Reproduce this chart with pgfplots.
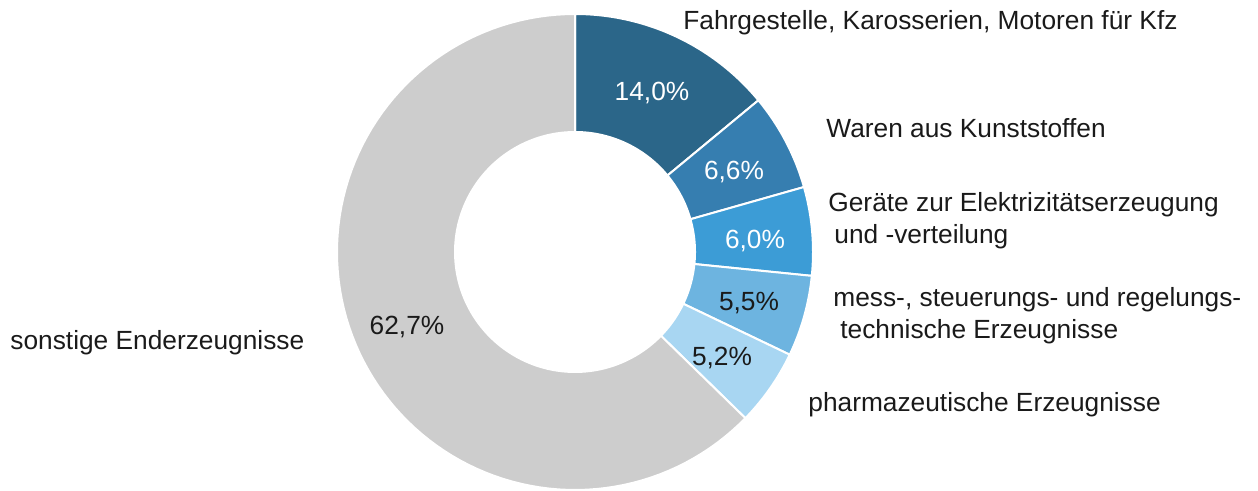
\documentclass[border=0pt]{standalone}
\usepackage{pgfplots}
\pgfplotsset{compat=1.18}
\usepackage{fontspec}
\setmainfont{Liberation Sans}

\definecolor{c1}{HTML}{2B6689}
\definecolor{c2}{HTML}{367EB0}
\definecolor{c3}{HTML}{3C9CD6}
\definecolor{c4}{HTML}{6DB4E0}
\definecolor{c5}{HTML}{A8D6F2}
\definecolor{c6}{HTML}{CDCDCD}
\definecolor{txt}{HTML}{1A1A1A}

\tikzset{lab/.style={font=\fontsize{13.2}{16}\selectfont, text=txt, inner sep=0pt}}

% one ring segment: start angle, end angle, colour
\newcommand{\segplot}[3]{%
  \addplot[fill=#3, draw=white, line width=1bp, line join=round,
    domain=0:2.2, samples=221, variable=\t]
  ({575+((\t<0.05||\t>1.15)?120:238)*cos((\t<=1.15)?(#1+(#2-#1)*min(max(\t-0.1,0),1)):(#2+(#1-#2)*min(max(\t-1.2,0),1)))},
   {239+((\t<0.05||\t>1.15)?120:238)*sin((\t<=1.15)?(#1+(#2-#1)*min(max(\t-0.1,0),1)):(#2+(#1-#2)*min(max(\t-1.2,0),1)))});
}
% start share, share (percent), colour
\newcommand{\seg}[3]{%
  \pgfmathsetmacro\sa{90-3.6*#1}%
  \pgfmathsetmacro\sb{90-3.6*(#1+#2)}%
  \edef\doseg{\noexpand\segplot{\sa}{\sb}{#3}}\doseg
}

\begin{document}
\begin{tikzpicture}
\begin{axis}[
    x=0.5bp, y=0.5bp,
    xmin=0, xmax=1258, ymin=0, ymax=491,
    hide axis, clip=false,
]
\path (axis cs:0,0) rectangle (axis cs:1258,491);

\seg{0}{14.0}{c1}
\seg{14.0}{6.6}{c2}
\seg{20.6}{6.0}{c3}
\seg{26.6}{5.5}{c4}
\seg{32.1}{5.2}{c5}
\seg{37.3}{62.7}{c6}

% shares
\node[lab, anchor=base, text=white] at (axis cs:652,390) {14,0\%};
\node[lab, anchor=base, text=white] at (axis cs:734,311) {6,6\%};
\node[lab, anchor=base, text=white] at (axis cs:755,242) {6,0\%};
\node[lab, anchor=base] at (axis cs:749,180) {5,5\%};
\node[lab, anchor=base] at (axis cs:722,125) {5,2\%};
\node[lab, anchor=base] at (axis cs:407,156) {62,7\%};

% categories
\node[lab, anchor=base west] at (axis cs:683,461) {Fahrgestelle, Karosserien, Motoren für Kfz};
\node[lab, anchor=base west] at (axis cs:826,353) {Waren aus Kunststoffen};
\node[lab, anchor=base west] at (axis cs:828,279) {Geräte zur Elektrizitätserzeugung};
\node[lab, anchor=base west] at (axis cs:834,247) {und -verteilung};
\node[lab, anchor=base west] at (axis cs:833,184) {mess-, steuerungs- und regelungs-};
\node[lab, anchor=base west] at (axis cs:840,152) {technische Erzeugnisse};
\node[lab, anchor=base west] at (axis cs:808,79) {pharmazeutische Erzeugnisse};
\node[lab, anchor=base west] at (axis cs:10,141) {sonstige Enderzeugnisse};
\end{axis}
\end{tikzpicture}
\end{document}
